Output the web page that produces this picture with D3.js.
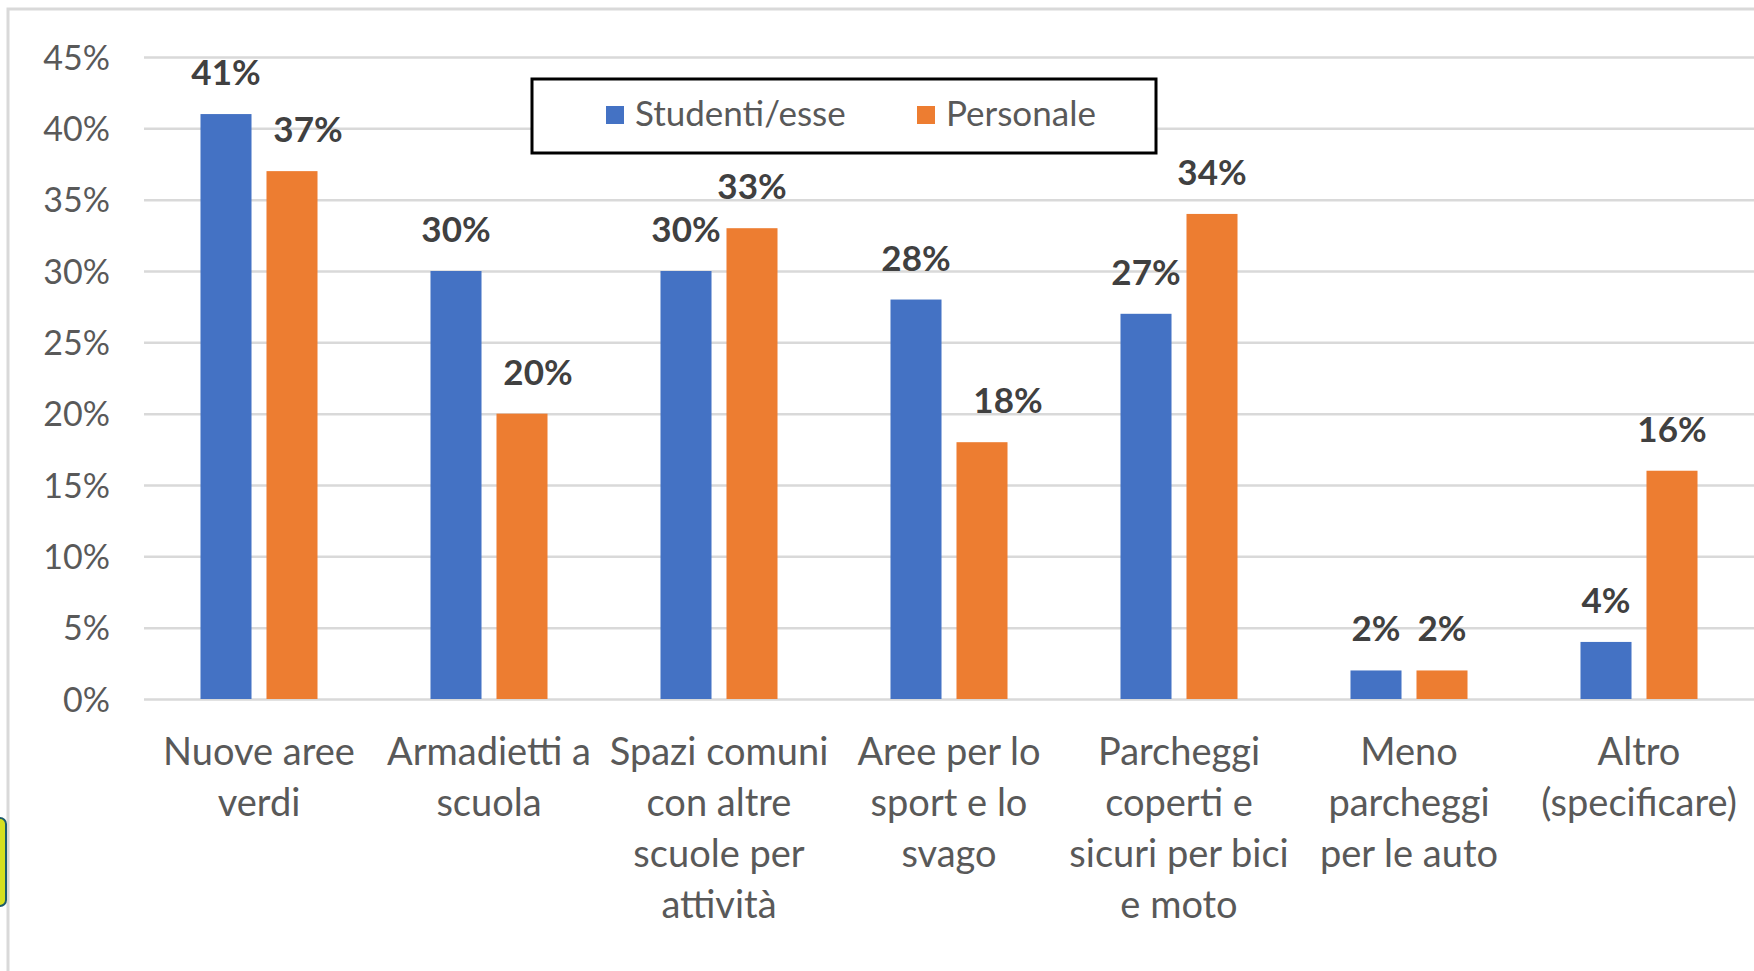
<!DOCTYPE html>
<html>
<head>
<meta charset="utf-8">
<script src="https://cdn.jsdelivr.net/npm/d3@7"></script>
<style>
  html, body { margin: 0; padding: 0; background: #fff; }
  svg { display: block; font-family: Lato, "Open Sans", sans-serif; }
</style>
</head>
<body>
<svg width="1754" height="971"></svg>
<script>
var categories = [
  ["Nuove aree", "verdi"],
  ["Armadietti a", "scuola"],
  ["Spazi comuni", "con altre", "scuole per", "attività"],
  ["Aree per lo", "sport e lo", "svago"],
  ["Parcheggi", "coperti e", "sicuri per bici", "e moto"],
  ["Meno", "parcheggi", "per le auto"],
  ["Altro", "(specificare)"]
];
var seriesNames = ["Studenti/esse", "Personale"];
var studenti  = [0.41, 0.30, 0.30, 0.28, 0.27, 0.02, 0.04];
var personale = [0.37, 0.20, 0.33, 0.18, 0.34, 0.02, 0.16];
var yTicks = [0, 0.05, 0.10, 0.15, 0.20, 0.25, 0.30, 0.35, 0.40, 0.45];

// a few labels were dragged by hand in the original (px)
var labelNudgeX = {Personale: [16, 16, 0, 26, 0, 0, 0]};

var colors = {"Studenti/esse": "#4472C4", "Personale": "#ED7D31"};
var font = 'Lato, "Open Sans", sans-serif';
var width = 1754, height = 971;
var margin = {left: 144, right: 0, top: 57, bottom: 272};

var svg = d3.select('svg');

// chart area frame (cropped on right / bottom)
svg.append('rect')
  .attr('x', 8).attr('y', 9)
  .attr('width', width + 20).attr('height', height + 20)
  .attr('fill', '#fff')
  .attr('stroke', '#d9d9d9')
  .attr('stroke-width', 3);

// bit of the slide background peeking in on the left
svg.append('rect')
  .attr('x', -14).attr('y', 818)
  .attr('width', 20).attr('height', 88)
  .attr('rx', 6)
  .attr('fill', '#d6e020')
  .attr('stroke', '#1d5c6b')
  .attr('stroke-width', 2);

var keys = categories.map(function (c) { return c.join(' '); });

var xScale = d3.scaleBand().domain(keys).range([margin.left, width - margin.right]);
var xInner = d3.scaleBand().domain(seriesNames).range([0, xScale.bandwidth()])
  .paddingInner(0.227).paddingOuter(0.856);
var yScale = d3.scaleLinear().domain([0, 0.45]).range([height - margin.bottom, margin.top]);

// y axis + gridlines
var yAxis = d3.axisLeft(yScale)
  .tickValues(yTicks)
  .tickFormat(d3.format('.0%'))
  .tickSize(-(width - margin.left - margin.right))
  .tickPadding(34);

var gy = svg.append('g')
  .attr('transform', 'translate(' + margin.left + ',0)')
  .call(yAxis)
  .attr('font-family', font);
gy.select('.domain').remove();
gy.selectAll('line').attr('stroke', '#d9d9d9').attr('stroke-width', 2.5);
gy.selectAll('text')
  .attr('fill', '#595959')
  .style('font-size', '34px')
  .attr('dy', '0.36em');

// x axis labels
var xAxis = d3.axisBottom(xScale).tickSize(0).tickPadding(0);
var gx = svg.append('g')
  .attr('transform', 'translate(0,' + (height - margin.bottom) + ')')
  .call(xAxis)
  .attr('font-family', font);
gx.select('.domain').remove();
gx.selectAll('text').each(function (d, i) {
  var t = d3.select(this);
  t.text(null)
    .attr('fill', '#595959')
    .attr('y', 0)
    .attr('dy', null)
    .style('font-size', '38px');
  categories[i].forEach(function (line, j) {
    t.append('tspan')
      .attr('x', 0)
      .attr('y', 66 + j * 51)
      .text(line);
  });
});

// bars
var rows = categories.map(function (c, i) {
  return {key: keys[i], values: [
    {series: seriesNames[0], value: studenti[i], idx: i},
    {series: seriesNames[1], value: personale[i], idx: i}
  ]};
});

var groups = svg.selectAll('g.cat')
  .data(rows)
  .enter()
  .append('g')
  .attr('class', 'cat')
  .attr('transform', function (d) { return 'translate(' + xScale(d.key) + ',0)'; });

groups.selectAll('rect')
  .data(function (d) { return d.values; })
  .enter()
  .append('rect')
  .attr('x', function (d) { return xInner(d.series); })
  .attr('y', function (d) { return yScale(d.value); })
  .attr('width', xInner.bandwidth())
  .attr('height', function (d) { return yScale(0) - yScale(d.value); })
  .attr('fill', function (d) { return colors[d.series]; });

groups.selectAll('text.lbl')
  .data(function (d) { return d.values; })
  .enter()
  .append('text')
  .attr('class', 'lbl')
  .attr('x', function (d) {
    var nudge = labelNudgeX[d.series] ? labelNudgeX[d.series][d.idx] : 0;
    return xInner(d.series) + xInner.bandwidth() / 2 + nudge;
  })
  .attr('y', function (d) { return yScale(d.value) - 29; })
  .attr('text-anchor', 'middle')
  .attr('fill', '#404040')
  .style('font-size', '35px')
  .style('font-weight', 'bold')
  .text(function (d) { return d3.format('.0%')(d.value); });

// legend
var legend = svg.append('g').attr('transform', 'translate(532,79)');
legend.append('rect')
  .attr('width', 624).attr('height', 74)
  .attr('fill', '#fff')
  .attr('stroke', '#000')
  .attr('stroke-width', 3);

var legendX = [74, 385];
seriesNames.forEach(function (name, i) {
  legend.append('rect')
    .attr('x', legendX[i]).attr('y', 27)
    .attr('width', 18).attr('height', 18)
    .attr('fill', colors[name]);
  legend.append('text')
    .attr('x', legendX[i] + 29).attr('y', 47)
    .attr('fill', '#595959')
    .style('font-size', '35px')
    .text(name);
});
</script>
</body>
</html>
